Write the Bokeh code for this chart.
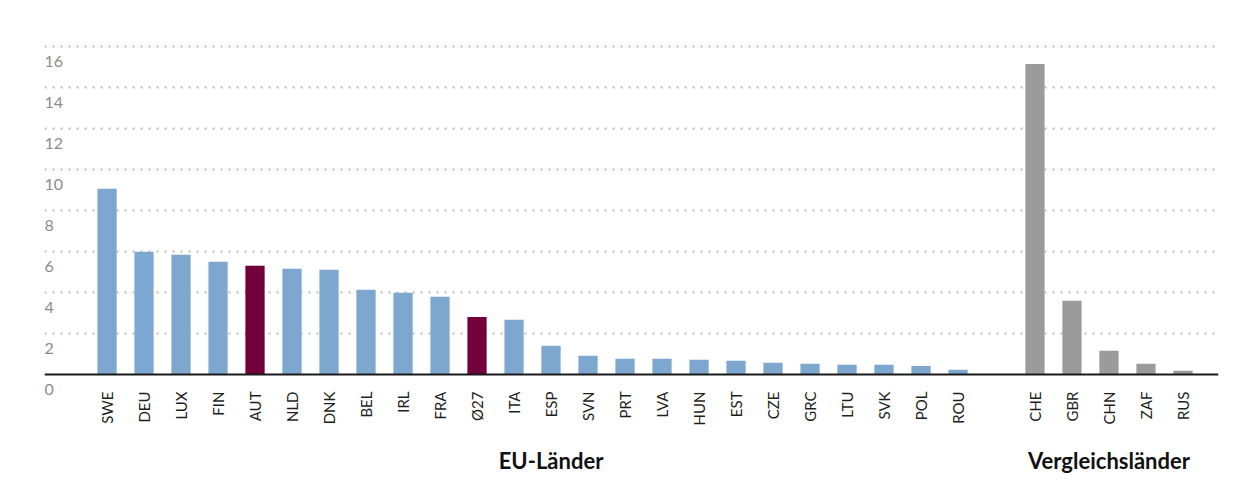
from math import pi
from bokeh.plotting import figure
from bokeh.models import Range1d, FixedTicker, LabelSet, ColumnDataSource, LinearAxis, Span
from bokeh.core.properties import value
from bokeh.embed import file_html
from bokeh.resources import INLINE

# ---- data ----
eu_countries = ["SWE", "DEU", "LUX", "FIN", "AUT", "NLD", "DNK", "BEL", "IRL", "FRA",
                "Ø27", "ITA", "ESP", "SVN", "PRT", "LVA", "HUN", "EST", "CZE", "GRC",
                "LTU", "SVK", "POL", "ROU"]
eu_values = [9.06, 5.99, 5.84, 5.50, 5.30, 5.16, 5.11, 4.13, 3.99, 3.79,
             2.81, 2.67, 1.40, 0.91, 0.77, 0.77, 0.72, 0.67, 0.57, 0.52,
             0.47, 0.47, 0.42, 0.23]
highlight = ["AUT", "Ø27"]
cmp_countries = ["CHE", "GBR", "CHN", "ZAF", "RUS"]
cmp_values = [15.15, 3.60, 1.16, 0.52, 0.18]
y_ticks = [0, 2, 4, 6, 8, 10, 12, 14, 16]
y_tick_labels = ["0", "2", "4", "6", "8", "10", "12", "14", "16"]
group_labels = ["EU-Länder", "Vergleichsländer"]

# ---- styling ----
BLUE = "#7ea7cf"
MAROON = "#72003a"
GREY = "#9b9b9b"
FONT = "Lato"
PX_PER_UNIT = 20.5

gap = 2.08
eu_x = [float(i) for i in range(len(eu_countries))]
cmp_x = [round(eu_x[-1] + gap + j, 2) for j in range(len(cmp_countries))]
eu_colors = [MAROON if c in highlight else BLUE for c in eu_countries]

x_start = -1.69
x_end = cmp_x[-1] + 0.96
y_start = -27 / PX_PER_UNIT
y_end = 334 / PX_PER_UNIT

p = figure(width=1241, height=492, output_backend="svg", toolbar_location=None,
           x_range=Range1d(x_start, x_end), y_range=Range1d(y_start, y_end),
           min_border_left=44, min_border_right=23, min_border_top=40, min_border_bottom=91)
p.outline_line_color = None
p.background_fill_color = "white"
p.border_fill_color = "white"

# grid
p.xgrid.grid_line_color = None
p.ygrid.ticker = FixedTicker(ticks=y_ticks[1:])
p.ygrid.grid_line_color = "#bdbdbd"
p.ygrid.grid_line_width = 2
p.ygrid.grid_line_dash = "2 6"
p.yaxis.visible = False

p.vbar(x=eu_x, top=eu_values, width=0.52, color=eu_colors, line_color=None)
p.vbar(x=cmp_x, top=cmp_values, width=0.52, color=GREY, line_color=None)

# baseline
p.add_layout(Span(location=0, dimension="width", line_color="#1a1a1a", line_width=2))

# x axis with country labels
all_x = eu_x + cmp_x
all_names = eu_countries + cmp_countries
xa = p.xaxis[0]
xa.ticker = FixedTicker(ticks=all_x)
xa.major_label_overrides = {x: n for x, n in zip(all_x, all_names)}
xa.major_label_orientation = pi / 2
xa.major_tick_line_color = None
xa.minor_tick_line_color = None
xa.axis_line_color = None
xa.major_label_standoff = -16
xa.major_label_text_font = FONT
xa.major_label_text_font_size = "15px"
xa.major_label_text_color = "#1e1e1e"

# group axis
group_x = [eu_x[len(eu_x) // 2], cmp_x[len(cmp_x) // 2]]
ga = LinearAxis(ticker=FixedTicker(ticks=group_x),
                major_label_overrides={x: g for x, g in zip(group_x, group_labels)},
                major_tick_line_color=None, minor_tick_line_color=None,
                axis_line_color=None, major_label_standoff=12,
                major_label_text_font=FONT, major_label_text_font_size="22px",
                major_label_text_font_style="bold", major_label_text_color="#111111")
p.add_layout(ga, "below")

# y tick labels below gridlines
ysrc = ColumnDataSource(dict(x=[x_start] * len(y_ticks), y=y_ticks, text=y_tick_labels))
p.add_layout(LabelSet(x="x", y="y", text="text", source=ysrc, text_align="left",
                      text_baseline="top", y_offset=-9, text_font=value(FONT),
                      text_font_size=value("16px"), text_color="#8c8c8c"))

html = file_html(p, INLINE)
open("out.html", "w").write(html)
